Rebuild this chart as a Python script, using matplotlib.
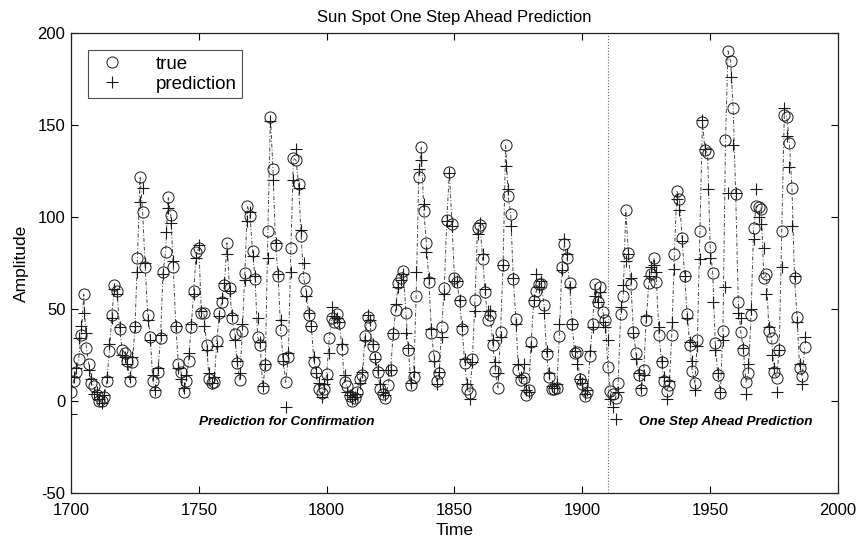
import numpy as np
import matplotlib
matplotlib.use("Agg")
import matplotlib.pyplot as plt

# ---- data -------------------------------------------------------------
years = list(range(1700, 1988))

true_1700s = [5, 11, 16, 23, 36, 58, 29, 20, 10, 8,
              3, 0, 0, 2, 11, 27, 47, 63, 60, 39,
              28, 26, 22, 11, 21, 40, 78, 122, 103, 73,
              47, 35, 11, 5, 16, 34, 70, 81, 111, 101,
              73, 40, 20, 16, 5, 11, 22, 40, 60, 80.9,
              83.4, 47.7, 47.8, 30.7, 12.2, 9.6, 10.2, 32.4, 47.6, 54.0,
              62.9, 85.9, 61.2, 45.1, 36.4, 20.9, 11.4, 37.8, 69.8, 106.1,
              100.8, 81.6, 66.5, 34.8, 30.6, 7.0, 19.8, 92.5, 154.4, 125.9,
              84.8, 68.1, 38.5, 22.8, 10.2, 24.1, 82.9, 132.0, 130.9, 118.1,
              89.9, 66.6, 60.0, 46.9, 41.0, 21.3, 16.0, 6.4, 4.1, 6.8]
true_1800s = [14.5, 34.0, 45.0, 43.1, 47.5, 42.2, 28.1, 10.1, 8.1, 2.5,
              0.0, 1.4, 5.0, 12.2, 13.9, 35.4, 45.8, 41.1, 30.1, 23.9,
              15.6, 6.6, 4.0, 1.8, 8.5, 16.6, 36.3, 49.6, 64.2, 67.0,
              70.9, 47.8, 27.5, 8.5, 13.2, 56.9, 121.5, 138.3, 103.2, 85.7,
              64.6, 36.7, 24.2, 10.7, 15.0, 40.1, 61.5, 98.5, 124.7, 96.3,
              66.6, 64.5, 54.1, 39.0, 20.6, 6.7, 4.3, 22.7, 54.8, 93.8,
              95.8, 77.2, 59.1, 44.0, 47.0, 30.5, 16.3, 7.3, 37.6, 74.0,
              139.0, 111.2, 101.6, 66.2, 44.7, 17.0, 11.3, 12.4, 3.4, 6.0,
              32.3, 54.3, 59.7, 63.7, 63.5, 52.2, 25.4, 13.1, 6.8, 6.3,
              7.1, 35.6, 73.0, 85.1, 78.0, 64.0, 41.8, 26.2, 26.7, 12.1]
true_1900s = [9.5, 2.7, 5.0, 24.4, 42.0, 63.5, 53.8, 62.0, 48.5, 43.9,
              18.6, 5.7, 3.6, 1.4, 9.6, 47.4, 57.1, 103.9, 80.6, 63.6,
              37.6, 26.1, 14.2, 5.8, 16.7, 44.3, 63.9, 69.0, 77.8, 64.9,
              35.7, 21.2, 11.1, 5.7, 8.7, 36.1, 79.7, 114.4, 109.6, 88.8,
              67.8, 47.5, 30.6, 16.3, 9.6, 33.2, 92.6, 151.6, 136.3, 134.7,
              83.9, 69.4, 31.5, 13.9, 4.4, 38.0, 141.7, 190.2, 184.8, 159.0,
              112.3, 53.9, 37.5, 27.9, 10.2, 15.1, 47.0, 93.8, 105.9, 105.5,
              104.5, 66.6, 68.9, 38.0, 34.5, 15.5, 12.6, 27.5, 92.5, 155.4,
              154.6, 140.4, 115.9, 66.6, 45.9, 17.9, 13.4, 29.4]

pred_1700s = [-7, 13, 18, 34, 41, 48, 37, 17, 12, 4,
              5, 1, -1, 3, 13, 31, 45, 61, 58, 40,
              25, 24, 20, 13, 24, 41, 70, 108, 116, 75,
              44, 33, 14, 6, 18, 36, 69, 92, 105, 97,
              76, 41, 18, 12, 7, 14, 26, 42, 58, 78,
              85, 49, 41, 28, 15, 10, 13, 30, 46, 56,
              64, 80, 60, 47, 33, 22, 15, 42, 66, 98,
              103, 79, 68, 45, 32, 8, 20, 78, 152, 120,
              86, 69, 44, 22, -3, 26, 70, 120, 137, 116,
              93, 75, 57, 48, 41, 24, 15, 10, 2, 9]
pred_1800s = [12, 26, 51, 46, 45, 43, 31, 14, 5, 3,
              1, 2, 4, 10, 16, 33, 47, 44, 31, 23,
              17, 9, 5, 3, 17, 17, 37, 53, 62, 66,
              69, 37, 29, 10, 16, 70, 126, 131, 107, 81,
              67, 39, 22, 9, 16, 35, 58, 98, 124, 95,
              65, 65, 55, 41, 23, 9, 1, 21, 49, 91,
              97, 80, 61, 49, 49, 33, 21, 15, 35, 74,
              128, 115, 95, 67, 42, 20, 13, 20, 6, 5,
              30, 55, 69, 62, 65, 48, 27, 15, 8, 7,
              9, 42, 71, 88, 80, 62, 42, 27, 20, 12]
pred_1900s = [10, 4, 6, 27, 40, 57, 54, 59, 43, 40,
              33, 1, -3, -10, 5, 51, 63, 76, 80, 67,
              37, 23, 15, 7, 14, 46, 68, 73, 74, 70,
              40, 22, 13, 1, 11, 43, 72, 110, 104, 87,
              68, 45, 32, 22, 6, 30, 77, 153, 137, 115,
              78, 54, 28, 15, 5, 33, 62, 113, 176, 139,
              113, 48, 45, 29, 4, 20, 50, 88, 115, 100,
              96, 83, 58, 40, 25, 18, 5, 28, 73, 159,
              144, 127, 95, 68, 43, 20, 9, 35]

true_vals = true_1700s + true_1800s + true_1900s
pred_vals = pred_1700s + pred_1800s + pred_1900s

split_year = 1910
xticks = [1700, 1750, 1800, 1850, 1900, 1950, 2000]
yticks = [-50, 0, 50, 100, 150, 200]

# ---- plot -------------------------------------------------------------
plt.rcParams['font.family'] = ['Liberation Sans', 'DejaVu Sans']
plt.rcParams['axes.unicode_minus'] = False

fig = plt.figure(figsize=(8.63, 5.42), dpi=100)
ax = fig.add_axes([0.0823, 0.0904, 0.8887, 0.8486])

ink = '#1a1a1a'
ax.plot(years, true_vals, linestyle=(0, (4, 2, 1, 2)), color='#444444',
        linewidth=0.7, zorder=1)
ax.plot(years, true_vals, 'o', markerfacecolor='none', markeredgecolor=ink,
        markersize=8, markeredgewidth=0.7, label='true', zorder=2)
ax.plot(years, pred_vals, '+', color=ink, markersize=9,
        markeredgewidth=0.8, label='prediction', zorder=3)

ax.axvline(split_year, color='#666666', linestyle=':', linewidth=0.8, zorder=0)

ax.set_xlim(1700, 2000)
ax.set_ylim(-50, 200)
ax.set_xticks(xticks)
ax.set_yticks(yticks)
ax.tick_params(direction='in', top=True, right=True, length=5,
               labelsize=12, width=0.8)
ax.tick_params(axis='x', pad=7)
ax.tick_params(axis='y', pad=4)
for s in ax.spines.values():
    s.set_linewidth(0.9)
    s.set_color('#222222')

ax.set_xlabel('Time', fontsize=12.5, labelpad=4)
ax.set_ylabel('Amplitude', fontsize=12.5, labelpad=6)
ax.set_title('Sun Spot One Step Ahead Prediction', fontsize=12, pad=8)

ax.text(1750, -11.5, 'Prediction for Confirmation', fontsize=9.7,
        fontweight='bold', fontstyle='italic', ha='left', va='center')
ax.text(1922, -11.5, 'One Step Ahead Prediction', fontsize=9.7,
        fontweight='bold', fontstyle='italic', ha='left', va='center')

leg = ax.legend(loc='upper left', fontsize=13.5, frameon=True, fancybox=False,
                edgecolor='#222222', borderaxespad=0.9, handletextpad=1.3,
                borderpad=0.3, labelspacing=0.15, handlelength=2.0)
leg.get_frame().set_linewidth(0.8)

fig.savefig('out.png', dpi=100)
